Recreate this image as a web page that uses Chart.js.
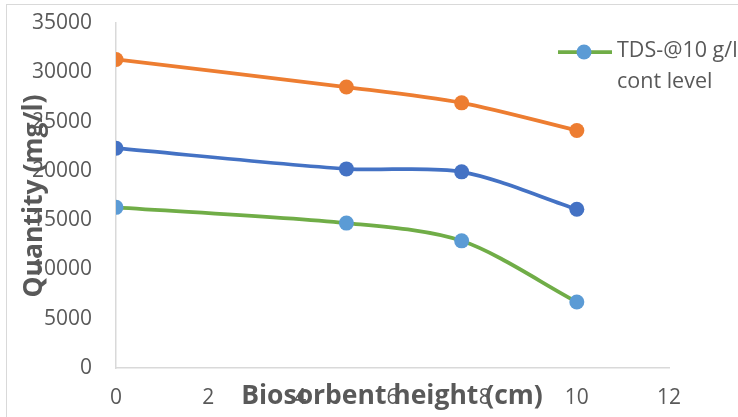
<!DOCTYPE html>
<html>
<head>
<meta charset="utf-8">
<script src="https://cdn.jsdelivr.net/npm/chart.js@4"></script>
<style>
  html, body { margin: 0; padding: 0; background: #ffffff; }
  #wrap { position: absolute; left: 0; top: 0; width: 738px; height: 417px; }
</style>
</head>
<body>
<div id="wrap"><canvas id="chart" width="738" height="417"></canvas></div>
<script>
// Biosorbent bed height (cm)
const heights = [0, 5, 7.5, 10];

// TDS quantity (mg/l) per contaminant level
const seriesHigh = [31300, 28500, 26900, 24100];
const seriesMid = [22300, 20200, 19900, 16100];
const seriesLow = [16300, 14700, 12900, 6700];

const seriesNames = ['TDS high cont level', 'TDS mid cont level', 'TDS-@10 g/l cont level'];
const legendLines = ['TDS-@10 g/l', 'cont level'];

const xTitle = 'Biosorbent height (cm)';
const yTitle = 'Quantity (mg/l)';

const FONT = '"Open Sans", "Liberation Sans", sans-serif';
const TEXT = '#595959';

function toPoints(values) {
  return values.map((v, i) => ({ x: heights[i], y: v }));
}

function lineSet(label, values, lineColor, markColor) {
  return {
    label,
    data: toPoints(values),
    showLine: true,
    tension: 0.3,
    borderColor: lineColor,
    borderWidth: 3.75,
    backgroundColor: markColor,
    pointBackgroundColor: markColor,
    pointBorderColor: markColor,
    pointBorderWidth: 0,
    pointRadius: 7.5,
    pointHoverRadius: 7.5
  };
}

// Outer frame of the chart object
const framePlugin = {
  id: 'frame',
  beforeDraw(chart) {
    const ctx = chart.ctx;
    ctx.save();
    ctx.fillStyle = '#ffffff';
    ctx.fillRect(0, 0, chart.width, chart.height);
    ctx.strokeStyle = '#D9D9D9';
    ctx.lineWidth = 1;
    ctx.strokeRect(6.5, 4.5, chart.width + 20, chart.height + 20);
    ctx.restore();
  }
};

// Axis titles, placed over the tick labels
const titlesPlugin = {
  id: 'axisTitles',
  afterDraw(chart) {
    const ctx = chart.ctx;
    ctx.save();
    ctx.fillStyle = TEXT;
    ctx.font = 'bold 26.5px ' + FONT;
    ctx.textAlign = 'center';
    ctx.textBaseline = 'middle';
    ctx.fillText(xTitle, 392, 396);
    ctx.translate(34, 196);
    ctx.rotate(-Math.PI / 2);
    ctx.fillText(yTitle, 0, 0);
    ctx.restore();
  }
};

// Legend entry for the low-level series
const legendPlugin = {
  id: 'sideLegend',
  afterDraw(chart) {
    const ds = chart.data.datasets[2];
    const ctx = chart.ctx;
    ctx.save();
    ctx.strokeStyle = ds.borderColor;
    ctx.lineWidth = 3.75;
    ctx.beginPath();
    ctx.moveTo(558, 52);
    ctx.lineTo(612, 52);
    ctx.stroke();
    ctx.fillStyle = ds.pointBackgroundColor;
    ctx.beginPath();
    ctx.arc(584, 52, 7.5, 0, Math.PI * 2);
    ctx.fill();
    ctx.fillStyle = TEXT;
    ctx.font = '21.5px ' + FONT;
    ctx.textAlign = 'left';
    ctx.textBaseline = 'middle';
    ctx.fillText(legendLines[0], 617, 51);
    ctx.fillText(legendLines[1], 617, 82);
    ctx.restore();
  }
};

const plain = (value) => String(value);

new Chart(document.getElementById('chart'), {
  type: 'scatter',
  data: {
    datasets: [
      lineSet(seriesNames[0], seriesHigh, '#ED7D31', '#ED7D31'),
      lineSet(seriesNames[1], seriesMid, '#4472C4', '#4472C4'),
      lineSet(seriesNames[2], seriesLow, '#70AD47', '#5B9BD5')
    ]
  },
  options: {
    responsive: false,
    animation: false,
    devicePixelRatio: 1,
    layout: { padding: { left: 0, right: 69, top: 23, bottom: 0 } },
    plugins: {
      legend: { display: false },
      tooltip: { enabled: false },
      title: { display: false }
    },
    scales: {
      x: {
        type: 'linear',
        min: 0,
        max: 12,
        afterFit(scale) { scale.height = 49; },
        grid: { display: false, drawTicks: true, tickLength: 17 },
        border: { display: true, color: '#D9D9D9', width: 1.5 },
        ticks: {
          stepSize: 2,
          padding: 0,
          color: TEXT,
          font: { family: FONT, size: 21 },
          callback: plain
        }
      },
      y: {
        type: 'linear',
        min: 0,
        max: 35000,
        afterFit(scale) { scale.width = 116; },
        grid: { display: false, drawTicks: true, tickLength: 24 },
        border: { display: true, color: '#D9D9D9', width: 1.5 },
        ticks: {
          stepSize: 5000,
          padding: 0,
          color: TEXT,
          font: { family: FONT, size: 21 },
          callback: plain
        }
      }
    }
  },
  plugins: [framePlugin, titlesPlugin, legendPlugin]
});
</script>
</body>
</html>
